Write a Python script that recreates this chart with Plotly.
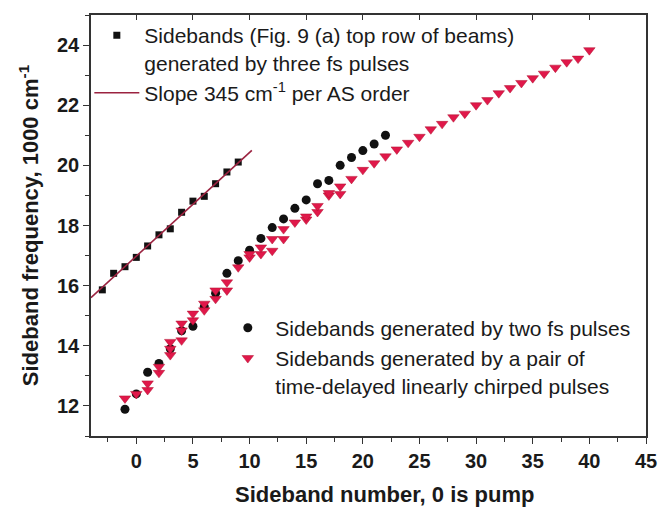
import plotly.graph_objects as go

# ---- data ----
sq_x = [-3, -2, -1, 0, 1, 2, 3, 4, 5, 6, 7, 8, 9]
sq_y = [15.86, 16.41, 16.63, 16.94, 17.32, 17.69, 17.89, 18.44, 18.81, 18.97, 19.39, 19.78, 20.11]

slope_x = [-4, 10.2]
slope_y = [15.60, 20.50]

circ_x = [-1, 0, 1, 2, 3, 4, 5, 6, 7, 8, 9, 10, 11, 12, 13, 14, 15, 16, 17, 18, 19, 20, 21, 22]
circ_y = [11.89, 12.40, 13.12, 13.41, 13.90, 14.50, 14.65, 15.30, 15.75, 16.41, 16.83, 17.18,
          17.57, 17.93, 18.22, 18.57, 18.85, 19.39, 19.50, 20.00, 20.26, 20.49, 20.71, 21.00]

tri_x = [-1, 0, 1, 1, 2, 2, 3, 3, 3, 4, 4, 4, 5, 5, 6, 6, 7, 7, 8, 8, 9, 10, 10, 11, 11,
         12, 12, 13, 13, 14, 15, 15, 16, 16, 17, 17, 18, 18, 19, 20, 21, 22, 23, 24, 25,
         26, 27, 28, 29, 30, 31, 32, 33, 34, 35, 36, 37, 38, 39, 40]
tri_y = [12.25, 12.40, 12.53, 12.75, 13.10, 13.30, 13.69, 13.90, 14.13, 14.18, 14.51, 14.74,
         14.85, 15.07, 15.18, 15.40, 15.56, 15.84, 15.84, 16.11, 16.61, 16.94, 17.05, 17.05,
         17.27, 17.16, 17.55, 17.55, 17.88, 18.10, 18.20, 18.30, 18.45, 18.65, 19.00, 19.08,
         19.05, 19.30, 19.55, 19.85, 20.07, 20.30, 20.53, 20.75, 20.95, 21.20, 21.38, 21.60,
         21.72, 22.00, 22.17, 22.40, 22.57, 22.74, 22.90, 23.05, 23.25, 23.43, 23.55, 23.83]

x_title = "Sideband number, 0 is pump"
y_title = "Sideband frequency, 1000 cm<sup>-1</sup>"

FONT = "Arial, Liberation Sans, sans-serif"
RED = "#e0184a"
MAROON = "#9b2340"

fig = go.Figure()

fig.add_trace(go.Scatter(
    x=sq_x, y=sq_y, mode="markers", legend="legend",
    name="Sidebands (Fig. 9 (a) top row of beams)<br>generated by three fs pulses",
    marker=dict(symbol="square", size=7, color="#111111")))
fig.add_trace(go.Scatter(
    x=slope_x, y=slope_y, mode="lines", legend="legend",
    name="Slope 345 cm<sup>-1</sup> per AS order",
    line=dict(color=MAROON, width=1.6)))
fig.add_trace(go.Scatter(
    x=circ_x, y=circ_y, mode="markers", legend="legend2",
    name="Sidebands generated by two fs pulses",
    marker=dict(symbol="circle", size=9, color="#111111")))
fig.add_trace(go.Scatter(
    x=tri_x, y=tri_y, mode="markers", legend="legend2",
    name="Sidebands generated by a pair of<br>time-delayed linearly chirped pulses",
    marker=dict(symbol="triangle-down", size=10, color=RED,
                line=dict(color="#b0102f", width=0.5))))
# helper for top axis ticks
fig.add_trace(go.Scatter(x=[], y=[], xaxis="x2", showlegend=False, hoverinfo="skip"))

axis_col = "#333333"
fig.update_layout(
    width=668, height=508,
    margin=dict(l=91, r=11, t=15, b=72),
    paper_bgcolor="white", plot_bgcolor="white",
    font=dict(family=FONT, color="#1a1a1a"),
    xaxis=dict(range=[-4, 45], tick0=0, dtick=5, ticks="outside", ticklen=6,
               tickwidth=1.3, tickcolor=axis_col,
               minor=dict(dtick=2.5, ticks="outside", ticklen=4, tickcolor=axis_col),
               showline=True, linecolor=axis_col, linewidth=1.5, mirror=True,
               showgrid=False, zeroline=False,
               tickfont=dict(size=20, weight="bold", family=FONT)),
    xaxis2=dict(range=[-4, 45], overlaying="x", side="top", anchor="y",
                tick0=0, dtick=5, ticks="inside", ticklen=5, tickcolor=axis_col,
                showticklabels=False, showgrid=False, zeroline=False, showline=False),
    yaxis=dict(range=[11, 25], tick0=12, dtick=2, ticks="outside", ticklen=6,
               tickwidth=1.3, tickcolor=axis_col,
               minor=dict(dtick=1, ticks="outside", ticklen=4, tickcolor=axis_col),
               showline=True, linecolor=axis_col, linewidth=1.5, mirror=True,
               showgrid=False, zeroline=False,
               tickfont=dict(size=20, weight="bold", family=FONT),
               title=dict(text=y_title, standoff=12,
                          font=dict(size=22, weight="bold", family=FONT))),
    legend=dict(x=-0.003, y=1.0, xanchor="left", yanchor="top",
                bgcolor="rgba(0,0,0,0)", itemwidth=45, valign="top",
                font=dict(size=21, family=FONT, color="#1a1a1a"), tracegroupgap=0),
    legend2=dict(x=0.233, y=0.305, xanchor="left", yanchor="top",
                 bgcolor="rgba(0,0,0,0)", itemwidth=45, valign="top",
                 font=dict(size=21, family=FONT, color="#1a1a1a"), tracegroupgap=0),
    annotations=[dict(text=x_title, xref="paper", yref="paper", x=0.53, y=-0.138,
                      xanchor="center", yanchor="middle", showarrow=False,
                      font=dict(size=22, weight="bold", family=FONT, color="#1a1a1a"))],
)

fig.write_html("out.html")
